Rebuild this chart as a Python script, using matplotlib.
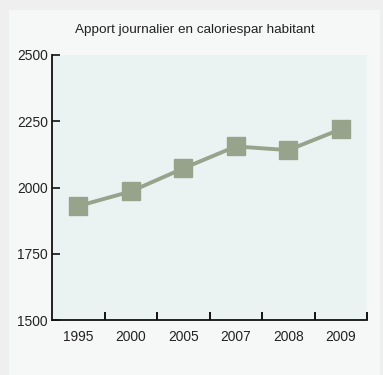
import matplotlib
matplotlib.use("Agg")
import matplotlib.pyplot as plt
from matplotlib.patches import Rectangle

years = ["1995", "2000", "2005", "2007", "2008", "2009"]
calories = [1930, 1985, 2072, 2155, 2141, 2220]
yticks = [1500, 1750, 2000, 2250, 2500]
title = "Apport journalier en caloriespar habitant"

plt.rcParams['font.family'] = ['Liberation Sans', 'DejaVu Sans']

W, H = 383, 375
fig = plt.figure(figsize=(W / 100, H / 100), dpi=100)
fig.patch.set_facecolor("#eeefee")
bg = fig.add_axes([0, 0, 1, 1], zorder=-10)
bg.set_axis_off()
bg.set_xlim(0, W)
bg.set_ylim(H, 0)
bg.add_patch(Rectangle((9, 10), 371, 370, facecolor="#f6f8f7", edgecolor="none"))

ax = fig.add_axes([52 / W, 1 - 320 / H, (367 - 52) / W, (320 - 55) / H], zorder=1)
ax.set_facecolor("#ebf3f2")
x = list(range(len(years)))
ax.plot(x, calories, color="#98a38c", lw=2.8, marker="s", markersize=12.3,
        markerfacecolor="#98a38c", markeredgecolor="#98a38c", zorder=3, clip_on=False)
ax.set_xlim(-0.5, len(years) - 0.5)
ax.set_ylim(1500, 2500)
ax.set_yticks(yticks)
ax.set_yticklabels([str(v) for v in yticks])
ax.tick_params(axis="y", direction="in", length=6, width=1.3, labelsize=9.9,
               colors="#222222", pad=3)
ax.set_xticks([i + 0.5 for i in x])
ax.tick_params(axis="x", direction="in", length=6, width=1.3, labelbottom=False)
for i, lab in enumerate(years):
    ax.text(i, -0.063, lab, transform=ax.get_xaxis_transform(), ha="center",
            va="center", fontsize=9.9, color="#222222")
for s in ["top", "right"]:
    ax.spines[s].set_visible(False)
for s in ["left", "bottom"]:
    ax.spines[s].set_linewidth(1.3)
    ax.spines[s].set_color("#111111")
fig.text(195 / W, 1 - 30 / H, title, ha="center", va="center", fontsize=9.7,
         color="#222222")
fig.savefig("out.png", dpi=100, facecolor=fig.get_facecolor())
